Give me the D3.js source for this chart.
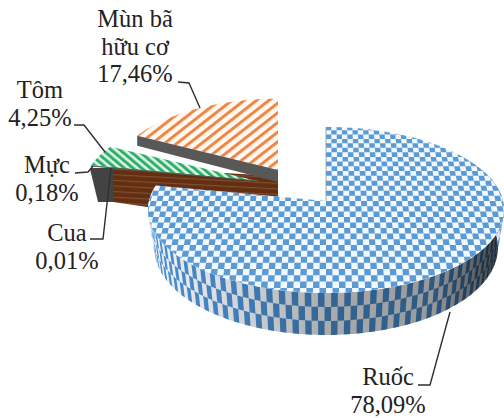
<!DOCTYPE html>
<html>
<head>
<meta charset="utf-8">
<script src="https://cdn.jsdelivr.net/npm/d3@7/dist/d3.min.js"></script>
<style>
html,body{margin:0;padding:0;background:#fff}
svg{display:block}
</style>
</head>
<body>
<svg id="chart" width="504" height="418"></svg>
<script>
// Composition of the sediment sample, percent by component
const categories = ["Ruốc", "Cua", "Mực", "Tôm", "Mùn bã hữu cơ"];
const shares = [78.09, 0.01, 0.18, 4.25, 17.46];
const shareLabels = ["78,09%", "0,01%", "0,18%", "4,25%", "17,46%"];

const W = 504, H = 418;
const svg = d3.select("#chart");
const defs = svg.append("defs");

const tilt = 0.108;               // perspective strength of the tilted disc
const arcs = d3.pie().sort(null).value(d => d)(shares);

// Placement of the exploded wedges: apex and disc radii
const mainDisc = {ax: 326, ay: 201, rx: 177, ry: 82};
const shrimpDisc = {ax: 258, ay: 181, rx: 174, ry: 79};
const detritusDisc = {ax: 278, ay: 170, rx: 166, ry: 79};

function project(disc, u, v) {
  const w = 1 - tilt * v;
  return [disc.ax + disc.rx * u / w, disc.ay + disc.ry * v / w];
}
const rim = (disc, a) => project(disc, Math.sin(a), -Math.cos(a));

function wedgePoints(disc, a0, a1) {
  const pts = [[disc.ax, disc.ay]];
  const n = Math.max(2, Math.ceil((a1 - a0) / 0.02));
  d3.range(n + 1).forEach(i => pts.push(rim(disc, a0 + (a1 - a0) * i / n)));
  return pts;
}
const line = d3.line();
const closed = pts => line(pts) + "Z";

function stripePattern(id, color, ground, period, thickness, angle) {
  const p = defs.append("pattern").attr("id", id)
    .attr("patternUnits", "userSpaceOnUse")
    .attr("width", period).attr("height", period)
    .attr("patternTransform", `rotate(${angle})`);
  p.append("rect").attr("width", period).attr("height", period).attr("fill", ground);
  p.append("rect").attr("width", thickness).attr("height", period).attr("fill", color);
}
stripePattern("hatchOrange", "#ee8644", "#fef8f3", 7.6, 3.0, 52);
stripePattern("hatchGreen", "#2fb06a", "#dff3e7", 5.6, 3.0, -50);
stripePattern("hatchBrown", "#7d5138", "#632f10", 5.6, 1.1, 93);

const [ruoc, cua, muc, tom, mun] = arcs;

// Grey end cap of the small wedges and the brown radial wall behind the main slice
const tipCorner = rim(shrimpDisc, muc.startAngle);
const brownWall = [[113, 167], [278, 176], [278, 226], [113, 202]];
svg.append("path").attr("d", closed(brownWall)).attr("fill", "url(#hatchBrown)");
svg.append("path")
  .attr("d", closed([[tipCorner[0] - 1, tipCorner[1] + 2], [113, 168], [114, 202], [98, 202]]))
  .attr("fill", "#434343");

// Detritus wedge: top face and its radial wall
const munPts = wedgePoints(detritusDisc, mun.startAngle, mun.endAngle);
svg.append("path").attr("d", closed(munPts)).attr("fill", "url(#hatchOrange)");

// Shrimp, squid and crab top faces share one exploded apex
const tomPts = wedgePoints(shrimpDisc, tom.startAngle, tom.endAngle);
svg.append("path").attr("d", closed(tomPts)).attr("fill", "url(#hatchGreen)");
svg.append("path").attr("d", closed(wedgePoints(shrimpDisc, muc.startAngle, muc.endAngle))).attr("fill", "#2fb06a");
svg.append("path").attr("d", closed(wedgePoints(shrimpDisc, cua.startAngle, cua.endAngle))).attr("fill", "#555");
svg.append("path")
  .attr("d", line([rim(shrimpDisc, muc.startAngle), [shrimpDisc.ax, shrimpDisc.ay]]))
  .attr("stroke", "#5a5a5a").attr("stroke-width", 1.2).attr("fill", "none");

const munCorner = rim(detritusDisc, mun.startAngle);
const capDepth = 11;
svg.append("path")
  .attr("d", closed([munCorner, [detritusDisc.ax, detritusDisc.ay],
    [detritusDisc.ax, detritusDisc.ay + capDepth + 1], [munCorner[0], munCorner[1] + capDepth - 1]]))
  .attr("fill", "#585858");

// Main slice: outer wall first, then the checkered top face
const depth = 37.5;
const wallBase = a => {
  const [x, y] = rim(mainDisc, a);
  const w = 1 + tilt * Math.cos(a);
  return t => [mainDisc.ax + (x - mainDisc.ax) * (1 - 0.035 * t), y + depth * t / w];
};
const wallStart = 1.2, wallEnd = ruoc.endAngle;
const wallSamples = d3.range(0, 141).map(i => wallStart + (wallEnd - wallStart) * i / 140);
const wallOutline = wallSamples.map(a => wallBase(a)(0))
  .concat(wallSamples.slice().reverse().map(a => wallBase(a)(1)));
svg.append("path").attr("d", closed(wallOutline)).attr("fill", "#f2f5f8");

const cellAngle = 0.0335, rows = 3;
let wallCells = "";
d3.range(Math.floor(wallStart / cellAngle), Math.ceil(wallEnd / cellAngle)).forEach(i => {
  d3.range(rows).forEach(j => {
    if ((i + j) % 2) return;
    const a0 = Math.max(wallStart, i * cellAngle), a1 = Math.min(wallEnd, (i + 1) * cellAngle);
    const t0 = j / rows, t1 = (j + 1) / rows;
    wallCells += closed([wallBase(a0)(t0), wallBase(a1)(t0), wallBase(a1)(t1), wallBase(a0)(t1)]);
  });
});
svg.append("path").attr("d", wallCells).attr("fill", "#4a8fd4");

const shade = defs.append("linearGradient").attr("id", "wallShade")
  .attr("gradientUnits", "userSpaceOnUse").attr("x1", 150).attr("x2", 504).attr("y1", 0).attr("y2", 0);
[[0, 0], [0.2, 0.1], [0.5, 0.3], [0.8, 0.38], [0.93, 0.62], [1, 0.75]].forEach(([o, a]) =>
  shade.append("stop").attr("offset", o).attr("stop-color", "#000").attr("stop-opacity", a));
svg.append("path").attr("d", closed(wallOutline)).attr("fill", "url(#wallShade)");

const ruocPts = wedgePoints(mainDisc, ruoc.startAngle, ruoc.endAngle);
defs.append("clipPath").attr("id", "ruocClip").append("path").attr("d", closed(ruocPts));
const topFace = svg.append("g").attr("clip-path", "url(#ruocClip)");
topFace.append("rect").attr("width", W).attr("height", H).attr("fill", "#f3f8fc");
const du = 0.033, dv = 0.0634;
let topCells = "";
d3.range(-34, 34).forEach(i => {
  d3.range(-18, 18).forEach(j => {
    if ((i + j + 68) % 2) return;
    const u0 = i * du, u1 = u0 + du, v0 = j * dv, v1 = v0 + dv;
    topCells += closed([project(mainDisc, u0, v0), project(mainDisc, u1, v0),
      project(mainDisc, u1, v1), project(mainDisc, u0, v1)]);
  });
});
topFace.append("path").attr("d", topCells).attr("fill", "#5b9bd5");
svg.append("line").attr("x1", mainDisc.ax).attr("x2", mainDisc.ax)
  .attr("y1", mainDisc.ay - mainDisc.ry / (1 + tilt)).attr("y2", mainDisc.ay)
  .attr("stroke", "#8a97a3").attr("stroke-width", 0.8);

// Callouts: one leader and a two- or three-line label per component
const callouts = [
  {i: 0, name: ["Ruốc"], cx: 388, y: 385, leader: [[418, 385], [430, 385], [450, 312]]},
  {i: 1, name: ["Cua"], cx: 67, y: 241, leader: [[90, 239], [103, 239], [111, 168]]},
  {i: 2, name: ["Mực"], cx: 47, y: 173, leader: [[75, 173], [88, 172], [93, 166]]},
  {i: 3, name: ["Tôm"], cx: 40, y: 98, leader: [[74, 125], [84, 125], [105, 152]]},
  {i: 4, name: ["Mùn bã", "hữu cơ"], cx: 135, y: 27, leader: [[178, 82], [189, 83], [200, 108]]}
];
const lineGap = 27.5;
callouts.forEach(c => {
  svg.append("path").attr("d", line(c.leader)).attr("fill", "none")
    .attr("stroke", "#2f2f2f").attr("stroke-width", 1.4);
  c.name.concat(shareLabels[c.i]).forEach((s, k) => {
    svg.append("text")
      .attr("x", c.cx).attr("y", c.y + k * lineGap)
      .attr("text-anchor", "middle").attr("fill", "#222")
      .attr("font-family", "'Liberation Serif','Times New Roman',serif")
      .attr("font-size", 24.5)
      .text(s);
  });
});
</script>
</body>
</html>
